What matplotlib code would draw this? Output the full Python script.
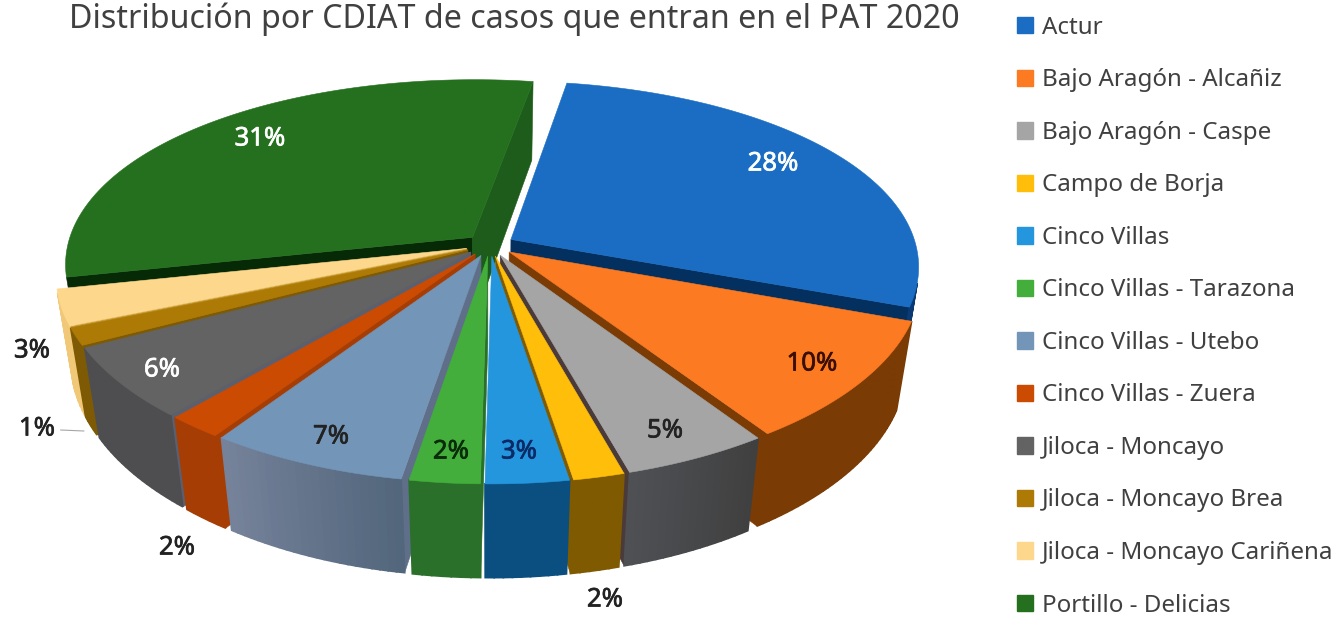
import numpy as np
import matplotlib
matplotlib.use("Agg")
import matplotlib.pyplot as plt
import matplotlib.patheffects as pe
from matplotlib.patches import Patch

plt.rcParams['font.family'] = ['Noto Sans', 'DejaVu Sans']

# Data
CENTERS = ["Actur", "Bajo Aragón - Alcañiz", "Bajo Aragón - Caspe", "Campo de Borja",
           "Cinco Villas", "Cinco Villas - Tarazona", "Cinco Villas - Utebo",
           "Cinco Villas - Zuera", "Jiloca - Moncayo", "Jiloca - Moncayo Brea",
           "Jiloca - Moncayo Cariñena", "Portillo - Delicias"]
SHARES = [28.0, 10.0, 5.0, 1.75, 2.85, 2.4, 6.8, 1.9, 5.88, 1.42, 3.0, 31.0]

# Colours of each slice
TOP_COLORS = ["#1A6DC2", "#FB7A22", "#A5A5A5", "#FFBE09", "#2496DD", "#43AE3C",
              "#7395B8", "#CB4B03", "#636363", "#AD7A05", "#FDD88C", "#25701F"]
WALL_LEFT = ["#0A3A73", "#7A3B05", "#4E5054", "#7F5A00", "#0B4F80", "#2A702A",
             "#75829A", "#A63D05", "#4E4E50", "#7F5A05", "#F0C878", "#1D5C1A"]
WALL_RIGHT = ["#0A3A73", "#7A3B05", "#404040", "#7F5A00", "#0B4F80", "#2A702A",
              "#52667C", "#A63D05", "#4E4E50", "#7F5A05", "#F0C878", "#1D5C1A"]
START_SIDE = ["#0A3A73", "#7A3B05", "#404040", "#7F5A00", "#0B4F80", "#2A702A",
              "#5F6F8A", "#A63D05", "#5A6070", "#7F5A05", "#C89A30", "#062906"]
END_SIDE = ["#03305F", "#7A3B05", "#4A3A3A", "#7F5A00", "#0B4F80", "#2A702A",
            "#5F6F8A", "#A63D05", "#4E4E50", "#7F5A05", "#C89A30", "#1D5C1A"]

# Data labels: where they sit and how they look
LABEL_XY = [(773, 164), (812, 364), (665, 431), (605, 600), (519, 452), (451, 452),
            (331, 437), (177, 548), (162, 370), (37, 429), (32, 351), (260, 139)]
LABEL_COLORS = ["white", "#3A0F00", "#222222", "#222222", "#0B2A66", "#0B2B0B",
                "#222222", "#222222", "white", "#222222", "#222222", "white"]

# Projection of the pie, in pixels
CX, CY = 490, 245
RX, RY = 405, 186
DEPTH = 89
PERSP_X = 0.14
PERSP_Y = 0.165
SHRINK = 0.035
EXPLODE = 0.06
START_ANGLE = 9.5


# Turns a point on the unit disc into picture pixels, z=0 top and z=1 bottom
def project(u, v, z):
    wx = 1 + PERSP_X * v + SHRINK * z
    wy = 1 + PERSP_Y * v + SHRINK * z
    return CX + RX * u / wx, CY + (-RY * v + DEPTH * z) / wy


def area(points):
    xs = np.array([p[0] for p in points])
    ys = np.array([p[1] for p in points])
    return np.sum(xs * np.roll(ys, -1) - np.roll(xs, -1) * ys)


def draw_slice(ax, a0, a1, i):
    mid = np.radians((a0 + a1) / 2)
    ou, ov = EXPLODE * np.sin(mid), EXPLODE * np.cos(mid)
    angles = np.radians(np.linspace(a0, a1, max(4, int(a1 - a0))))
    us = ou + np.sin(angles)
    vs = ov + np.cos(angles)

    # Side walls, only those that face the viewer
    tip_t, tip_b = project(ou, ov, 0), project(ou, ov, 1)
    start_quad = [tip_t, project(us[0], vs[0], 0), project(us[0], vs[0], 1), tip_b]
    end_quad = [tip_t, project(us[-1], vs[-1], 0), project(us[-1], vs[-1], 1), tip_b]
    if area(start_quad) < 0:
        ax.fill(*zip(*start_quad), color=START_SIDE[i], lw=0.4)
    if area(end_quad) > 0:
        ax.fill(*zip(*end_quad), color=END_SIDE[i], lw=0.4)

    # Outer wall, shaded from one side of the slice to the other
    left = np.array(matplotlib.colors.to_rgb(WALL_LEFT[i]))
    right = np.array(matplotlib.colors.to_rgb(WALL_RIGHT[i]))
    for j in range(len(us) - 1):
        quad = [project(us[j], vs[j], 0), project(us[j + 1], vs[j + 1], 0),
                project(us[j + 1], vs[j + 1], 1), project(us[j], vs[j], 1)]
        if area(quad) < 0:
            t = j / (len(us) - 2)
            ax.fill(*zip(*quad), color=right + (left - right) * t, lw=1.2)

    # Top of the slice
    top = [tip_t] + [project(a, b, 0) for a, b in zip(us, vs)]
    ax.fill(*zip(*top), color=TOP_COLORS[i], lw=0.4)


def main():
    fig = plt.figure(figsize=(13.43, 6.19), dpi=100)
    ax = fig.add_axes([0, 0, 1, 1])
    ax.set_xlim(0, 1343)
    ax.set_ylim(619, 0)
    ax.axis("off")

    # Slice limits, going clockwise from the top
    edges = START_ANGLE + np.concatenate([[0], np.cumsum(SHARES)]) * 3.6

    # Back slices first so the front ones paint over them
    mids = (edges[:-1] + edges[1:]) / 2
    for i in np.argsort(-np.cos(np.radians(mids))):
        draw_slice(ax, edges[i], edges[i + 1], i)

    for i, share in enumerate(SHARES):
        x, y = LABEL_XY[i]
        text = f"{round(share)}%"
        stroke = [pe.withStroke(linewidth=0.5, foreground=LABEL_COLORS[i])]
        if CENTERS[i] == "Jiloca - Moncayo Brea":
            ax.annotate(text, xy=(84, 431), xytext=(x, y), ha="center", va="center",
                        fontsize=18.5, color=LABEL_COLORS[i], path_effects=stroke,
                        arrowprops=dict(arrowstyle="-", color="#A6A6A6", lw=0.8,
                                        shrinkA=2, shrinkB=0))
        else:
            ax.text(x, y, text, ha="center", va="center", fontsize=18.5,
                    color=LABEL_COLORS[i], path_effects=stroke)

    ax.text(514, 19, "Distribución por CDIAT de casos que entran en el PAT 2020",
            ha="center", va="center", fontsize=23.2, color="#404040")

    handles = [Patch(color=c) for c in TOP_COLORS]
    ax.legend(handles, CENTERS, loc="upper left", bbox_to_anchor=(1012 / 1343, 1 - 11 / 619),
              bbox_transform=fig.transFigure, frameon=False, fontsize=17.4,
              labelcolor="#404040", handlelength=0.66, handleheight=0.66,
              handletextpad=0.37, labelspacing=1.18, borderpad=0.2, borderaxespad=0)

    fig.savefig("out.png", dpi=100)


if __name__ == "__main__":
    main()
